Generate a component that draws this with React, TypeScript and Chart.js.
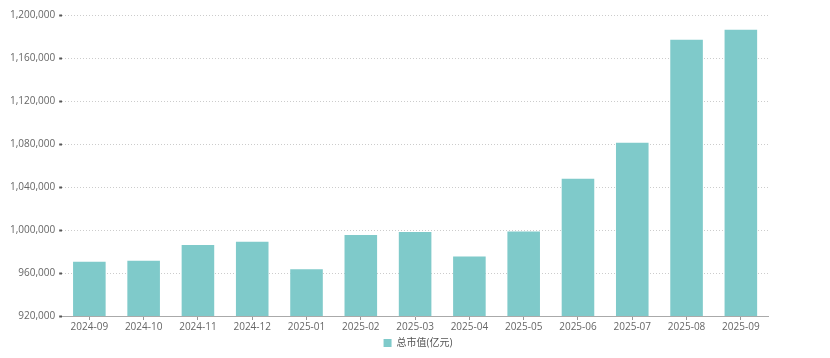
import React, { useEffect, useRef } from "react";
import { Chart, registerables } from "chart.js";

Chart.register(...registerables);

const categories = ["2024-09","2024-10","2024-11","2024-12","2025-01","2025-02","2025-03","2025-04","2025-05","2025-06","2025-07","2025-08","2025-09"];
const marketCap = [970500, 971400, 986000, 989100, 963400, 995300, 998100, 975400, 998700, 1047700, 1081200, 1177000, 1186300];
const seriesName = "总市值(亿元)";
const yMin = 920000;
const yMax = 1200000;
const yStep = 40000;

export default function App() {
  const ref = useRef<HTMLCanvasElement | null>(null);
  useEffect(() => {
    document.body.style.margin = "0";
    const font = { family: "'Open Sans', 'Noto Sans CJK SC', sans-serif", size: 10 };
    const chart = new Chart(ref.current!, {
      type: "bar",
      data: {
        labels: categories,
        datasets: [{
          label: seriesName,
          data: marketCap,
          backgroundColor: "#7fcaca",
          borderWidth: 0,
          barPercentage: 0.6,
          categoryPercentage: 1,
        }],
      },
      options: {
        animation: false,
        responsive: false,
        layout: { padding: { top: 15, right: 0, left: 6, bottom: 0 } },
        plugins: {
          legend: {
            position: "bottom",
            labels: { boxWidth: 8, boxHeight: 8, color: "#555", font, padding: 4 },
          },
          tooltip: { enabled: false },
        },
        scales: {
          x: {
            grid: { display: true, drawOnChartArea: false, drawTicks: true, tickLength: 4, offset: false, color: "#999" },
            border: { display: true, color: "#aaa" },
            ticks: { color: "#666", font, padding: 1, maxRotation: 0 },
          },
          y: {
            min: yMin,
            max: yMax,
            grid: { color: "#ccc", borderDash: [1, 2], tickLength: 3, tickWidth: 2, tickColor: "#555", tickBorderDash: [] },
            border: { display: false, dash: [1, 2] },
            ticks: {
              stepSize: yStep,
              color: "#666",
              font,
              padding: 4,
              callback: (v: any) => Number(v).toLocaleString("en-US"),
            },
          },
          spacer: {
            type: "linear",
            position: "right",
            display: true,
            grid: { display: false, drawTicks: false },
            border: { display: false },
            ticks: { display: false },
            afterFit: (s: any) => { s.width = 62; },
          },
        },
      } as any,
    });
    return () => chart.destroy();
  }, []);
  return <canvas ref={ref} width={830} height={358} style={{ display: "block" }} />;
}
